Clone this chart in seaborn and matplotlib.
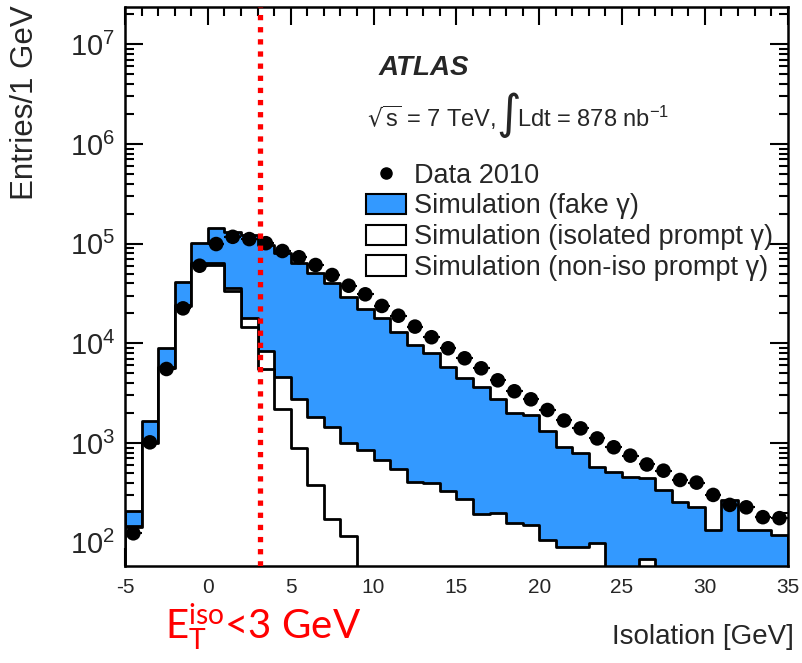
import numpy as np
import pandas as pd
import matplotlib
matplotlib.use("Agg")
import matplotlib.pyplot as plt
import seaborn as sns
from matplotlib.lines import Line2D
from matplotlib.patches import Patch
from matplotlib.ticker import MultipleLocator, LogLocator, LogFormatterMathtext, NullFormatter

# Style
sns.set_theme(style="ticks")
plt.rcParams['font.family'] = ['Liberation Sans', 'DejaVu Sans']
plt.rcParams['mathtext.default'] = 'regular'
plt.rcParams['axes.unicode_minus'] = False

# -------------------------------
# Data (1 GeV bins from -5 to 35)
# -------------------------------
bin_edges = list(range(-5, 36))
bin_centers = [e + 0.5 for e in bin_edges[:-1]]

iso_prompt = [142, 1000, 5650, 23500, 61500, 61500, 33800, 14500, 5480, 2180,
              885, 380, 172, 117, 0, 0, 0, 0, 0, 0,
              0, 0, 0, 0, 0, 0, 0, 0, 0, 0,
              0, 0, 0, 0, 0, 0, 0, 0, 0, 0]
noniso_prompt = [5, 30, 170, 700, 1900, 1900, 1900, 3300, 2950, 2380,
                 1855, 1460, 1258, 890, 851, 676, 545, 404, 394, 332,
                 272, 194, 199, 156, 151, 106, 91, 90, 100, 0,
                 0, 68, 0, 0, 0, 0, 0, 0, 0, 0]
fake = [62, 633, 3210, 16700, 37300, 78600, 95300, 104200, 88370, 75440,
        60660, 48560, 38570, 27893, 21449, 17124, 12555, 9206, 7546, 5408,
        4178, 3426, 2541, 1829, 1759, 1224, 827, 710, 478, 515,
        453, 375, 338, 258, 226, 134, 268, 134, 134, 118]
data_2010 = [124, 1014, 5520, 22400, 60000, 99000, 117000, 111000, 101000, 84300,
             73000, 61000, 48400, 37800, 31000, 23700, 18900, 14700, 11500, 8910,
             7070, 5610, 4250, 3300, 2740, 2140, 1680, 1400, 1110, 905,
             746, 608, 527, 425, 400, 301, 239, 226, 180, 176]

legend_labels = ["Data 2010", "Simulation (fake \u03b3)",
                 "Simulation (isolated prompt \u03b3)", "Simulation (non-iso prompt \u03b3)"]

# stacked levels
df = pd.DataFrame({'iso': bin_centers})
df['lvl_iso'] = np.array(iso_prompt, dtype=float)
df['lvl_prompt'] = df['lvl_iso'] + np.array(noniso_prompt)
df['lvl_total'] = df['lvl_prompt'] + np.array(fake)
df['data'] = data_2010

blue = '#3399ff'

fig = plt.figure(figsize=(8.02, 6.63), dpi=100)
ax = fig.add_axes([0.1559, 0.1468, 0.8263, 0.8422])

# stack drawn from the top down, ROOT style
for col_name, col in [('lvl_total', blue), ('lvl_prompt', 'white'), ('lvl_iso', 'white')]:
    sns.histplot(data=df, x='iso', weights=col_name, binwidth=1, binrange=(-5, 35),
                 element='step', fill=True, color=col, alpha=1, edgecolor='black',
                 linewidth=2, ax=ax)

# data points
ax.errorbar(df['iso'], df['data'], xerr=0.5, fmt='none', ecolor='black', lw=1.5, zorder=5)
sns.scatterplot(data=df, x='iso', y='data', color='black', s=110, edgecolor='none',
                zorder=6, ax=ax)

# isolation cut
ax.axvline(3.15, color='red', lw=3.8, ls=(0, (1.0, 1.3)), zorder=7)

ax.set_yscale('log')
ax.set_xlim(-5, 35)
ax.set_ylim(58.7, 2.35e7)

# axes / ticks
for s in ax.spines.values():
    s.set_linewidth(1.8)
    s.set_color('black')
ax.xaxis.set_major_locator(MultipleLocator(5))
ax.xaxis.set_minor_locator(MultipleLocator(1))
ax.yaxis.set_major_locator(LogLocator(base=10, numticks=20))
ax.yaxis.set_minor_locator(LogLocator(base=10, subs=np.arange(2, 10), numticks=50))
ax.yaxis.set_major_formatter(LogFormatterMathtext())
ax.yaxis.set_minor_formatter(NullFormatter())
ax.tick_params(which='both', direction='in', top=True, right=True, color='black', width=1.5)
ax.tick_params(which='major', length=13)
ax.tick_params(which='minor', length=6.5)
ax.tick_params(axis='x', which='major', labelsize=15, pad=9)
ax.tick_params(axis='y', which='major', labelsize=21, pad=7)

ax.set_xlabel("Isolation [GeV]", fontsize=20, loc='right')
ax.xaxis.set_label_coords(1.01, -0.105)
ax.set_ylabel("Entries/1 GeV", fontsize=22.5, loc='top')
ax.yaxis.set_label_coords(-0.128, 1.004)

# annotations
ax.text(0.382, 0.879, "ATLAS", transform=ax.transAxes, fontsize=20,
        fontweight='bold', fontstyle='italic', va='baseline')
ax.text(0.365, 0.786, r"$\sqrt{s}$ = 7 TeV,", transform=ax.transAxes, fontsize=17, va='baseline')
ax.text(0.561, 0.806, "\u222b", transform=ax.transAxes, fontsize=34, va='center',
        family='DejaVu Sans')
ax.text(0.592, 0.786, r"Ldt = 878 nb$^{-1}$", transform=ax.transAxes, fontsize=17, va='baseline')

ax.text(0.06, -0.133, r"$E_{T}^{iso}$<3 GeV", transform=ax.transAxes, fontsize=29,
        color='red', va='baseline', family='Lato')

handles = [Line2D([], [], marker='o', color='black', ls='none', markersize=8),
           Patch(facecolor=blue, edgecolor='black', lw=1.5),
           Patch(facecolor='white', edgecolor='black', lw=1.5),
           Patch(facecolor='white', edgecolor='black', lw=1.5)]
ax.legend(handles, legend_labels, loc='upper left', bbox_to_anchor=(0.364, 0.722),
          frameon=False, fontsize=19.5, borderpad=0, borderaxespad=0,
          handlelength=1.45, handleheight=0.8, handletextpad=0.3, labelspacing=0.18)

fig.savefig("out.png", dpi=100)
